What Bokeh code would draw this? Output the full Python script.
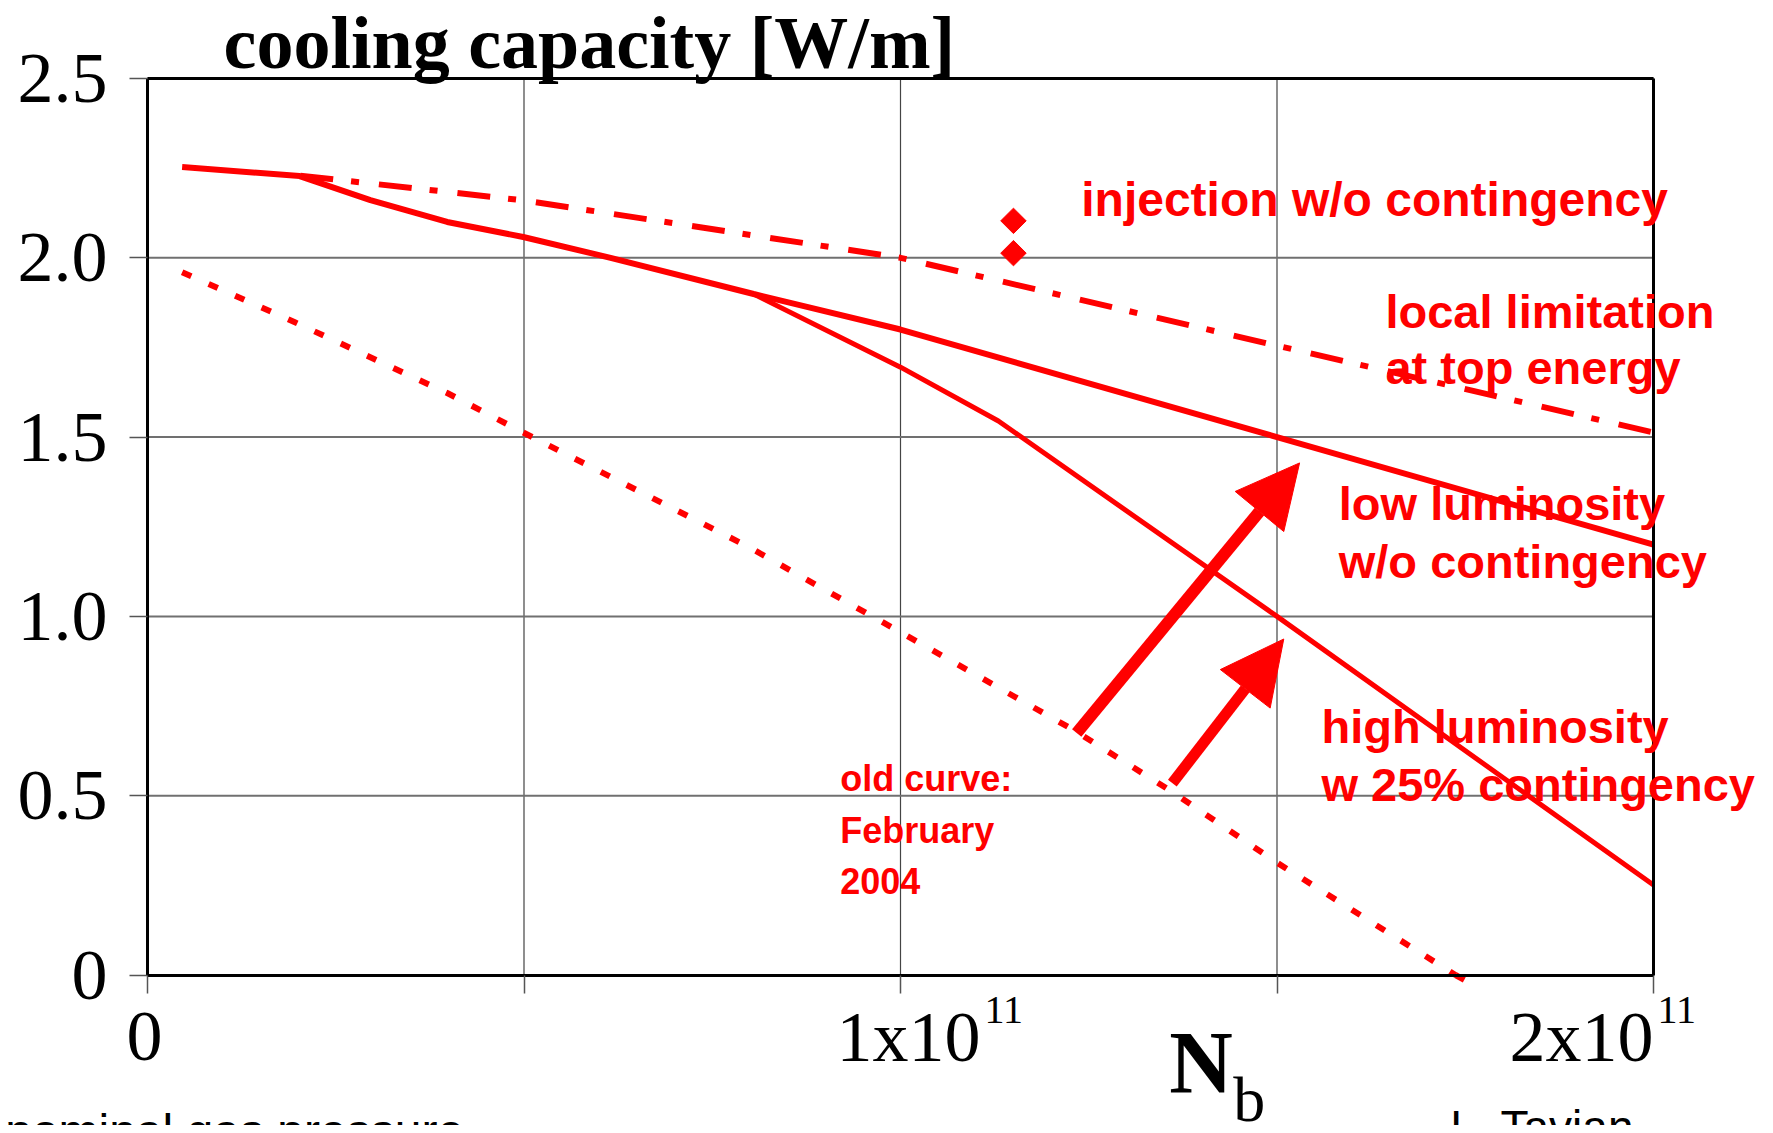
import math
from bokeh.plotting import figure
from bokeh.models import Range1d, FixedTicker, Label, Arrow, NormalHead, LinearAxis
from bokeh.embed import file_html
from bokeh.resources import INLINE

# ---------------- data (N_b in units of 1e11, cooling capacity in W/m) -------------
low_lum_x = [0.046, 0.202, 0.296, 0.398, 0.499, 0.615, 0.805, 1.0, 1.5, 2.0]
low_lum_y = [2.253, 2.228, 2.161, 2.10, 2.058, 2.0, 1.899, 1.80, 1.50, 1.20]

high_lum_x = [0.805, 1.0, 1.13, 1.5, 2.0]
high_lum_y = [1.899, 1.695, 1.545, 1.0, 0.251]

injection_x = [0.203, 0.5, 1.0, 1.5, 2.0]
injection_y = [2.229, 2.16, 2.0, 1.755, 1.513]

old_x = [0.046, 0.195, 0.398, 0.498, 0.798, 0.999, 1.230, 1.357, 1.501, 1.737]
old_y = [1.960, 1.821, 1.623, 1.514, 1.194, 0.957, 0.683, 0.516, 0.312, 0.0]
old_tail_x = [1.737, 1.766]
old_tail_y = [0.0, -0.033]

point_x = [1.150, 1.150]
point_y = [2.103, 2.013]

# arrows: (x_start, y_start, x_end, y_end)
arrow_big = (1.234, 0.675, 1.530, 1.428)
arrow_small = (1.361, 0.535, 1.509, 0.937)

x_min, x_max = 0.0, 2.0
y_min, y_max = 0.0, 2.5
y_ticks = [0, 0.5, 1.0, 1.5, 2.0, 2.5]
y_tick_labels = ["0", "0.5", "1.0", "1.5", "2.0", "2.5"]
x_ticks = [0, 0.5, 1.0, 1.5, 2.0]
x_label_pos = [0, 1, 2]
x_label_mant = ["0", "1x10", "2x10"]
x_label_exp = ["", "11", "11"]

title_text = "cooling capacity [W/m]"
RED = "#ff0000"

# ---------------- figure: the frame fills the canvas, axes sit at fixed data locations
W, H = 1773, 1125
PX_X = 753.0      # pixels per 1e11
PX_Y = 358.6      # pixels per W/m
LEFT, TOP = 147, 78
x0 = -LEFT / PX_X
x1 = x0 + W / PX_X
y1 = y_max + TOP / PX_Y
y0 = y1 - H / PX_Y

p = figure(width=W, height=H, output_backend="svg", toolbar_location=None,
           x_range=Range1d(x0, x1), y_range=Range1d(y0, y1),
           min_border=0, x_axis_location=None, y_axis_location=None)
p.background_fill_color = "white"
p.border_fill_color = "white"
p.outline_line_color = None
p.xgrid.visible = False
p.ygrid.visible = False

# grid lines inside the data box
p.segment(x0=x_ticks, y0=[y_min] * len(x_ticks), x1=x_ticks, y1=[y_max] * len(x_ticks),
          line_color="#444444", line_width=1.2)
p.segment(x0=[x_min] * len(y_ticks), y0=y_ticks, x1=[x_max] * len(y_ticks), y1=y_ticks,
          line_color="#707070", line_width=2)

def make_axis(side, loc, ticks, bounds):
    ax = LinearAxis(ticker=FixedTicker(ticks=ticks), fixed_location=loc, bounds=bounds)
    ax.axis_line_color = "black"
    ax.axis_line_width = 3
    ax.major_tick_in = 0
    ax.major_tick_out = 18
    ax.major_tick_line_color = "#555555"
    ax.major_tick_line_width = 1.5
    ax.minor_tick_line_color = None
    p.add_layout(ax, side)
    return ax

yax = make_axis("left", x_min, y_ticks, (y_min, y_max))
yax.major_label_overrides = {t: s for t, s in zip(y_ticks, y_tick_labels)}
yax.major_label_text_font = "Liberation Serif"
yax.major_label_text_font_size = "72px"
yax.major_label_text_color = "black"
yax.major_label_standoff = 22

xax = make_axis("below", y_min, x_ticks, (x_min, x_max))
xax.major_label_text_font_size = "0px"
xax.major_label_text_color = None

rax = make_axis("right", x_max, [], (y_min, y_max))
rax.major_label_text_color = None
tax = make_axis("above", y_max, [], (x_min, x_max))
tax.major_label_text_color = None

# curves
p.line(old_x, old_y, line_color=RED, line_width=6, line_dash="10 19")
p.line(old_tail_x, old_tail_y, line_color=RED, line_width=6, line_dash="10 19")
p.line(injection_x, injection_y, line_color=RED, line_width=6, line_dash="33 18 8 20")
p.line(high_lum_x, high_lum_y, line_color=RED, line_width=5)
p.line(low_lum_x, low_lum_y, line_color=RED, line_width=6)
p.scatter(point_x, point_y, marker="square", size=18, angle=math.pi / 4,
          fill_color=RED, line_color=RED)

# arrows
for (xs, ys, xe, ye), lw in ((arrow_big, 12), (arrow_small, 11)):
    p.add_layout(Arrow(end=NormalHead(size=63, fill_color=RED, line_color=RED),
                       x_start=xs, y_start=ys, x_end=xe, y_end=ye,
                       line_color=RED, line_width=lw))

def lab(x, y, text, size, color="black", font="Liberation Sans", style="normal",
        align="left", x_offset=0):
    # y is the wanted baseline; Bokeh's alphabetic anchor sits ~0.32 em lower
    y_adj = y + 0.32 * size / PX_Y
    p.add_layout(Label(x=x, y=y_adj, text=text, text_font=font,
                       text_font_size=f"{size}px", text_color=color,
                       text_font_style=style, text_align=align,
                       text_baseline="alphabetic", x_offset=x_offset))

# title
lab(0.101, 2.532, title_text, 74, font="Liberation Serif", style="bold")

# x tick labels
x_offsets = [0, 80, 0]
for pos, mant, ex, off in zip(x_label_pos, x_label_mant, x_label_exp, x_offsets):
    if ex:
        lab(pos, -0.237, mant, 72, font="Liberation Serif", align="right", x_offset=off)
        lab(pos, -0.134, ex, 40, font="Liberation Serif", align="left", x_offset=off + 4)
    else:
        lab(pos, -0.237, mant, 72, font="Liberation Serif", align="center", x_offset=-3)

# axis label N_b
lab(1.357, -0.323, "N", 88, font="Liberation Serif", style="bold")
lab(1.442, -0.405, "b", 64, font="Liberation Serif")

# red annotations
lab(1.240, 2.119, "injection w/o contingency", 48, RED, style="bold")
lab(1.644, 1.807, "local limitation", 47, RED, style="bold")
lab(1.644, 1.651, "at top energy", 47, RED, style="bold")
lab(1.582, 1.274, "low luminosity", 47, RED, style="bold")
lab(1.582, 1.110, "w/o contingency", 47, RED, style="bold")
lab(1.559, 0.650, "high luminosity", 47, RED, style="bold")
lab(1.559, 0.488, "w 25% contingency", 47, RED, style="bold")
lab(0.920, 0.516, "old curve:", 36, RED, style="bold")
lab(0.920, 0.371, "February", 36, RED, style="bold")
lab(0.920, 0.231, "2004", 36, RED, style="bold")

# footer texts (cut by the page edge, as in the original slide)
lab(-0.189, -0.480, "nominal gas pressure", 48)
lab(1.730, -0.466, "L. Tavian", 46)

open("out.html", "w").write(file_html(p, INLINE))
